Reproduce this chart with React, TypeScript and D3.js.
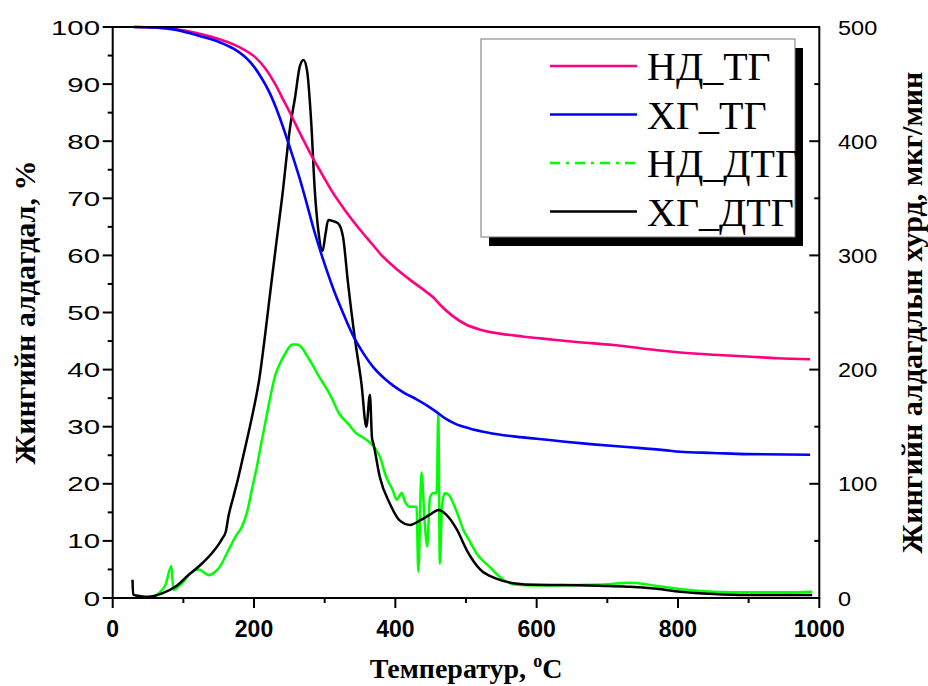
import React from "react";
import * as d3 from "d3";

const ndTG: [number, number][] = [
  [30, 100], [60, 99.9], [90, 99.6], [120, 98.9], [150, 97.9], [170, 97.0], [185, 96.1], [200, 94.9],
  [215, 92.9], [230, 90.0], [240, 87.6], [250, 85.2], [265, 81.4], [280, 77.8], [295, 74.5], [310, 71.3],
  [330, 67.7], [350, 64.5], [365, 62.3], [380, 60.1], [400, 57.8], [420, 55.8], [444, 53.6], [455, 52.5],
  [463, 51.4], [480, 49.5], [500, 47.9], [520, 47.0], [548, 46.3], [580, 45.8], [619, 45.3], [660, 44.8],
  [708, 44.3], [750, 43.7], [803, 43.0], [850, 42.6], [897, 42.3], [940, 42.0], [987, 41.8],
];

const xgTG: [number, number][] = [
  [30, 100], [60, 99.9], [90, 99.5], [124, 98.4], [150, 97.4], [171, 96.2], [185, 95], [195, 93.8],
  [210, 91.2], [222, 88.5], [235, 84.6], [251, 78.8], [265, 73.3], [275, 68.9], [284, 64.8], [298, 59.2],
  [312, 54.2], [325, 50.2], [340, 46.0], [355, 42.8], [369, 40.4], [385, 38.4], [397, 37.2], [413, 35.9],
  [430, 34.8], [445, 33.7], [458, 32.6], [470, 31.5], [485, 30.5], [505, 29.7], [530, 29.0], [567, 28.3],
  [600, 27.9], [637, 27.4], [680, 26.9], [732, 26.4], [780, 25.9], [803, 25.6], [850, 25.4], [897, 25.2],
  [987, 25.1],
];

const ndDTG: [number, number][] = [
  [55, 0.5], [65, 4], [75, 12], [83, 28], [86, 7], [93, 10], [100, 14], [107.5, 20], [115, 24], [122, 25],
  [130, 22], [136, 20], [143, 22], [150, 26], [164, 42], [175, 55], [183, 62.5], [190, 75], [197, 95],
  [204, 115], [211, 138], [218, 160], [225, 182], [230, 195], [235, 203], [245, 215], [254, 222], [260, 222],
  [268, 219], [275, 212], [282, 205], [291, 195], [301, 185], [310, 175], [320, 162], [334, 152], [345, 144],
  [353, 141], [364, 136], [378, 124], [387, 106], [396, 95], [402, 86], [409, 92], [414, 84], [421, 80],
  [430, 80], [432.5, 23], [437, 110], [442, 62], [445, 45], [449, 88], [454, 92], [458.5, 92], [460.8, 162],
  [463, 30], [466, 80], [470, 92], [476, 90], [482, 83], [489, 72], [496, 60], [505, 50], [515, 39],
  [525, 32], [534, 27], [545, 20], [553, 16], [572, 11.5], [600, 11], [661, 11.4], [700, 12], [732, 13.4],
  [760, 11.5], [779, 9.9], [810, 7.5], [850, 5.5], [900, 5], [950, 5], [990, 5.5],
];

const xgDTG: [number, number][] = [
  [28, 16], [29, 3], [40, 1.5], [50, 1], [60, 2], [70, 4], [89, 10], [107, 20], [126, 30], [140, 39],
  [150, 47], [155, 52], [160, 58], [164, 72], [171, 89], [178, 106], [185, 125], [192, 144], [200, 167],
  [207, 190], [216, 232], [224, 273], [232, 313], [240, 352], [251, 412], [258, 438], [265, 466], [270, 471],
  [275, 462], [281, 416], [286, 357], [291, 322], [297, 304], [301, 318], [305, 331], [312, 330], [319, 328],
  [326, 316], [333, 276], [343, 226], [352, 188], [359, 150], [364, 178], [367, 140], [369, 135], [378, 106],
  [392, 83], [406, 68], [421, 64], [435, 68], [449, 73], [461, 77], [472, 73], [487, 60], [501, 42],
  [520, 25], [543, 17], [567, 13], [600, 11.5], [638, 11.4], [700, 10.5], [732, 9.9], [770, 8], [803, 5.5],
  [850, 3.5], [897, 2.6], [990, 2.6],
];

const xTicks = [0, 200, 400, 600, 800, 1000];
const xMinor = [100, 300, 500, 700, 900];
const yLeftTicks = [0, 10, 20, 30, 40, 50, 60, 70, 80, 90, 100];
const yLeftMinor = [5, 15, 25, 35, 45, 55, 65, 75, 85, 95];
const yRightTicks = [0, 100, 200, 300, 400, 500];
const yRightMinor = [50, 150, 250, 350, 450];

const legendItems = [
  { label: "НД_ТГ", color: "#FF0080", dash: "" },
  { label: "ХГ_ТГ", color: "#0000FF", dash: "" },
  { label: "НД_ДТГ", color: "#00FF00", dash: "10,6,3,6" },
  { label: "ХГ_ДТГ", color: "#000000", dash: "" },
];

const L = 112.7, R = 819.3, T = 27, B = 598;

export default function App() {
  const x = d3.scaleLinear().domain([0, 1000]).range([L, R]);
  const yL = d3.scaleLinear().domain([0, 100]).range([B, T]);
  const yR = d3.scaleLinear().domain([0, 500]).range([B, T]);
  const lineL = d3.line<[number, number]>().x(d => x(d[0])).y(d => yL(d[1])).curve(d3.curveMonotoneX);
  const lineR = d3.line<[number, number]>().x(d => x(d[0])).y(d => yR(d[1])).curve(d3.curveMonotoneX);
  const sans = "'Liberation Sans', Arial, sans-serif";
  const serif = "'Liberation Serif', 'Times New Roman', serif";

  return (
    <svg width={928} height={686} style={{ position: "absolute", left: 0, top: 0, background: "#fff" }}>
      <rect x={0} y={0} width={928} height={686} fill="#fff" />
      {/* data */}
      <path d={lineR(ndDTG) ?? ""} fill="none" stroke="#00FF00" strokeWidth={2.5} strokeLinejoin="round" />
      <path d={lineR(xgDTG) ?? ""} fill="none" stroke="#000" strokeWidth={2.5} strokeLinejoin="round" />
      <path d={lineL(ndTG) ?? ""} fill="none" stroke="#FF0080" strokeWidth={2.6} />
      <path d={lineL(xgTG) ?? ""} fill="none" stroke="#0000FF" strokeWidth={2.6} />

      {/* frame */}
      <line x1={L} x2={R} y1={T} y2={T} stroke="#000" strokeWidth={2} />
      <line x1={L} x2={R} y1={B} y2={B} stroke="#000" strokeWidth={2} />
      <line x1={L} x2={L} y1={T - 1} y2={B + 1} stroke="#000" strokeWidth={2} />
      <line x1={R} x2={R} y1={T - 1} y2={B + 1} stroke="#000" strokeWidth={2} />

      {/* left ticks */}
      {yLeftTicks.map(v => (
        <g key={"yl" + v}>
          <line x1={L - 10} x2={L} y1={yL(v)} y2={yL(v)} stroke="#000" strokeWidth={2} />
          <text transform={`translate(100,${yL(v) + 7.5}) scale(1.4,1)`} textAnchor="end" fontFamily={sans} fontSize={21} fill="#000">{v}</text>
        </g>
      ))}
      {yLeftMinor.map(v => (
        <line key={"ylm" + v} x1={L - 5} x2={L} y1={yL(v)} y2={yL(v)} stroke="#000" strokeWidth={2} />
      ))}
      {/* right ticks */}
      {yRightTicks.map(v => (
        <g key={"yr" + v}>
          <line x1={R - 10} x2={R} y1={yR(v)} y2={yR(v)} stroke="#000" strokeWidth={2} />
          <text transform={`translate(838,${yR(v) + 7.5}) scale(1.12,1)`} textAnchor="start" fontFamily={sans} fontSize={21} fill="#000">{v}</text>
        </g>
      ))}
      {yRightMinor.map(v => (
        <line key={"yrm" + v} x1={R - 5} x2={R} y1={yR(v)} y2={yR(v)} stroke="#000" strokeWidth={2} />
      ))}
      {/* bottom ticks */}
      {xTicks.map(v => (
        <g key={"x" + v}>
          <line x1={x(v)} x2={x(v)} y1={B} y2={B + 10} stroke="#000" strokeWidth={2} />
          <text x={x(v)} y={637} textAnchor="middle" fontFamily={sans} fontWeight="bold" fontSize={23} fill="#000">{v}</text>
        </g>
      ))}
      {xMinor.map(v => (
        <line key={"xm" + v} x1={x(v)} x2={x(v)} y1={B} y2={B + 5} stroke="#000" strokeWidth={2} />
      ))}

      {/* axis titles */}
      <text x={466} y={678} textAnchor="middle" fontFamily={serif} fontWeight="bold" fontSize={28} fill="#000">
        Температур, <tspan fontSize={18} dy={-11}>o</tspan><tspan dy={11}>C</tspan>
      </text>
      <text transform="translate(35,312.5) rotate(-90)" textAnchor="middle" fontFamily={serif} fontWeight="bold" fontSize={30} fill="#000">
        Жингийн алдагдал, %
      </text>
      <text transform="translate(922,312.5) rotate(-90)" textAnchor="middle" fontFamily={serif} fontWeight="bold" fontSize={30} fill="#000">
        Жингийн алдагдлын хурд, мкг/мин
      </text>

      {/* legend */}
      <rect x={489} y={48} width={314} height={198} fill="#000" />
      <rect x={481} y={39} width={314} height={198} fill="#fff" stroke="#777" strokeWidth={1} />
      {legendItems.map((it, i) => {
        const by = 80 + i * 48.5;
        return (
          <g key={it.label}>
            <line x1={550} x2={637} y1={by - 14} y2={by - 14} stroke={it.color} strokeWidth={2.5} strokeDasharray={it.dash || undefined} />
            <text x={647} y={by} fontFamily={serif} fontSize={40} fill="#000">{it.label}</text>
          </g>
        );
      })}
    </svg>
  );
}
